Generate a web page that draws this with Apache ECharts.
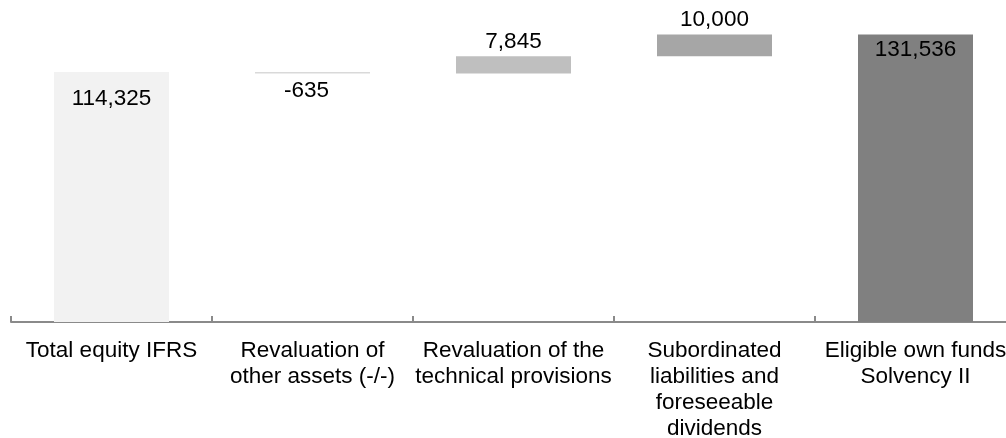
<!DOCTYPE html>
<html>
<head>
<meta charset="utf-8">
<script src="https://cdn.jsdelivr.net/npm/echarts@6/dist/echarts.min.js"></script>
<style>
  html, body { margin: 0; padding: 0; background: #fff; }
  #chart { width: 1006px; height: 438px; }
</style>
</head>
<body>
<div id="chart"></div>
<script>
// waterfall data: first and last are totals, the rest are changes
const categories = [
  'Total equity IFRS',
  'Revaluation of\nother assets (-/-)',
  'Revaluation of the\ntechnical provisions',
  'Subordinated\nliabilities and\nforeseeable\ndividends',
  'Eligible own funds\nSolvency II'
]
const values = [114325, -635, 7845, 10000, 131536]
const isTotal = [true, false, false, false, true]

const barColors = ['#f2f2f2', '#d9d9d9', '#bfbfbf', '#a6a6a6', '#808080']
const labelPos = [
  { position: 'insideTop', distance: 15 },
  { position: 'bottom', distance: 6, offset: [-6, 0] },
  { position: 'top', distance: 3 },
  { position: 'top', distance: 3 },
  { position: 'insideTop', distance: 4 }
]

// build invisible base + visible part
const base = []
const shown = []
let running = 0
values.forEach((v, i) => {
  if (isTotal[i]) {
    base.push(0)
    shown.push(v)
    running = v
  } else if (v < 0) {
    running += v
    base.push(running)
    shown.push(-v)
  } else {
    base.push(running)
    shown.push(v)
    running += v
  }
})

const chart = echarts.init(document.getElementById('chart'))
const option = {
  animation: false,
  textStyle: { fontFamily: 'Liberation Sans, Arial, sans-serif' },
  grid: { left: 11, width: 1005, top: 16, bottom: 116, outerBoundsMode: 'none', containLabel: false },
  xAxis: {
    type: 'category',
    data: categories,
    axisLine: { show: true, lineStyle: { color: '#8a8a8a', width: 2 } },
    axisTick: { show: true, inside: true, length: 6, lineStyle: { color: '#8a8a8a', width: 2 } },
    axisLabel: {
      color: '#000',
      fontSize: 22.5,
      lineHeight: 26,
      margin: 16,
      interval: 0,
      align: 'center'
    }
  },
  yAxis: {
    type: 'value',
    min: 0,
    max: 140000,
    show: false,
    splitLine: { show: false }
  },
  series: [
    {
      type: 'bar',
      stack: 'wf',
      data: base,
      itemStyle: { color: 'transparent' },
      barWidth: 115,
      silent: true
    },
    {
      type: 'bar',
      stack: 'wf',
      barWidth: 115,
      data: shown.map((v, i) => ({
        value: v,
        itemStyle: { color: barColors[i] },
        label: Object.assign({
          show: true,
          color: '#000',
          fontSize: 22.5,
          formatter: () => values[i].toLocaleString('en-US')
        }, labelPos[i])
      }))
    }
  ]
}
chart.setOption(option)
</script>
</body>
</html>
